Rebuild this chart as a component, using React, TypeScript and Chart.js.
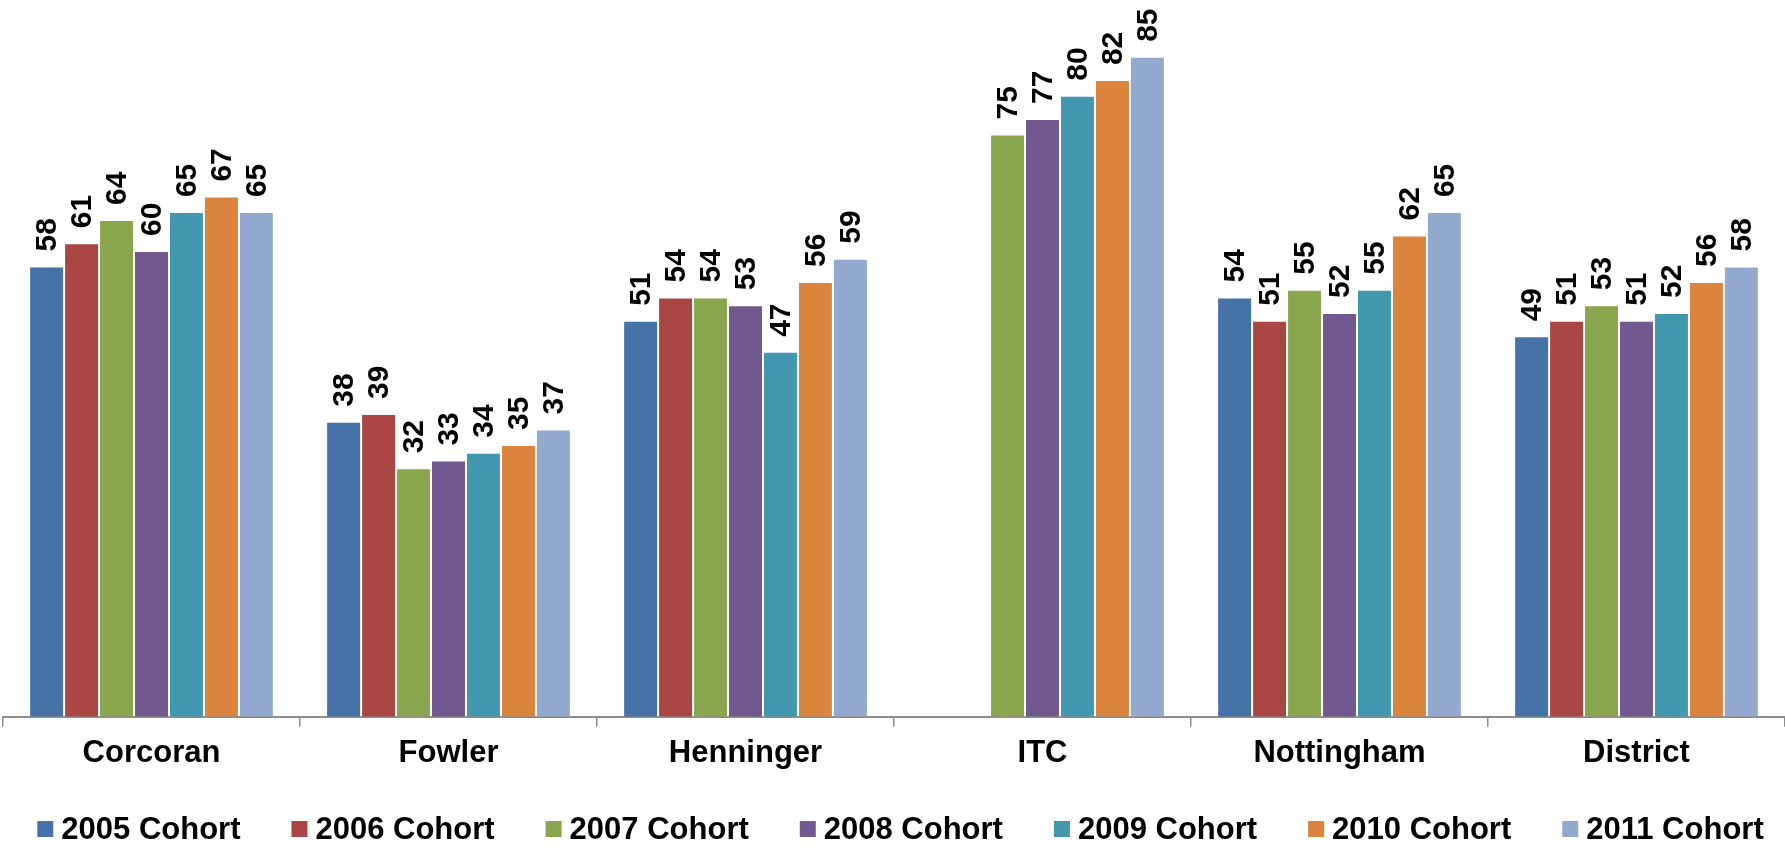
import React, { useEffect, useRef } from "react";
import { Chart, registerables } from "chart.js";
Chart.register(...registerables);

const categories = ["Corcoran", "Fowler", "Henninger", "ITC", "Nottingham", "District"];
const cohortLabels = ["2005 Cohort", "2006 Cohort", "2007 Cohort", "2008 Cohort", "2009 Cohort", "2010 Cohort", "2011 Cohort"];
const cohort2005 = [58, 38, 51, null, 54, 49];
const cohort2006 = [61, 39, 54, null, 51, 51];
const cohort2007 = [64, 32, 54, 75, 55, 53];
const cohort2008 = [60, 33, 53, 77, 52, 51];
const cohort2009 = [65, 34, 47, 80, 55, 52];
const cohort2010 = [67, 35, 56, 82, 62, 56];
const cohort2011 = [65, 37, 59, 85, 65, 58];
const seriesValues = [cohort2005, cohort2006, cohort2007, cohort2008, cohort2009, cohort2010, cohort2011];
const seriesColors = ["#4572A7", "#AA4643", "#89A54E", "#71588F", "#4198AF", "#DB843D", "#93A9CF"];
const yMin = 0;
const yMax = 90;

const FONT = "'Liberation Sans', Arial, sans-serif";

const valueLabelPlugin = {
  id: "valueLabels",
  afterDatasetsDraw(chart: any) {
    const ctx = chart.ctx;
    ctx.save();
    ctx.font = `bold 30px ${FONT}`;
    ctx.fillStyle = "#000";
    ctx.textAlign = "left";
    ctx.textBaseline = "middle";
    chart.data.datasets.forEach((ds: any, i: number) => {
      const meta = chart.getDatasetMeta(i);
      meta.data.forEach((el: any, j: number) => {
        const v = ds.data[j];
        if (v === null || v === undefined) return;
        ctx.save();
        ctx.translate(el.x, el.y - 15);
        ctx.rotate(-Math.PI / 2);
        ctx.fillText(String(v), 0, 1);
        ctx.restore();
      });
    });
    ctx.restore();
  },
};

const legendPlugin = {
  id: "customLegend",
  afterDraw(chart: any) {
    const ctx = chart.ctx;
    ctx.save();
    ctx.font = `bold 31px ${FONT}`;
    ctx.textBaseline = "middle";
    ctx.textAlign = "left";
    const box = 16;
    const gapBox = 8;
    const gapItem = 51;
    const widths = cohortLabels.map((t) => box + gapBox + ctx.measureText(t).width);
    const total = widths.reduce((a, b) => a + b, 0) + gapItem * (widths.length - 1);
    let x = (chart.width - total) / 2 + 8;
    const yc = 829;
    cohortLabels.forEach((t, i) => {
      ctx.fillStyle = seriesColors[i];
      ctx.fillRect(x, yc - box / 2, box, box);
      ctx.fillStyle = "#000";
      ctx.fillText(t, x + box + gapBox, yc + 1);
      x += widths[i] + gapItem;
    });
    ctx.restore();
  },
};

export default function App() {
  const ref = useRef<HTMLCanvasElement | null>(null);
  useEffect(() => {
    if (!ref.current) return;
    const chart = new Chart(ref.current, {
      type: "bar",
      data: {
        labels: categories,
        datasets: seriesValues.map((vals, i) => ({
          label: cohortLabels[i],
          data: vals,
          backgroundColor: seriesColors[i],
          borderColor: "rgba(255,255,255,0.35)",
          borderWidth: 1,
          categoryPercentage: 0.824,
          barPercentage: 1,
        })),
      },
      options: {
        animation: false,
        responsive: true,
        maintainAspectRatio: false,
        layout: { padding: { left: 3, right: 0, top: 18, bottom: 71 } },
        plugins: {
          legend: { display: false },
          tooltip: { enabled: false },
        },
        scales: {
          x: {
            grid: {
              display: true,
              drawOnChartArea: false,
              drawTicks: true,
              tickLength: 10,
              color: "#8c8c8c",
              lineWidth: 1.5,
            },
            border: { display: true, color: "#8c8c8c", width: 2 },
            ticks: {
              color: "#000",
              font: { family: FONT, size: 31, weight: "bold" },
              padding: 8,
              maxRotation: 0,
              autoSkip: false,
            },
          },
          y: {
            display: false,
            min: yMin,
            max: yMax,
          },
        },
      },
      plugins: [valueLabelPlugin, legendPlugin],
    });
    return () => chart.destroy();
  }, []);
  return (
    <div style={{ position: "absolute", left: 0, top: 0, width: 1785, height: 851, background: "#fff" }}>
      <canvas ref={ref} />
    </div>
  );
}
